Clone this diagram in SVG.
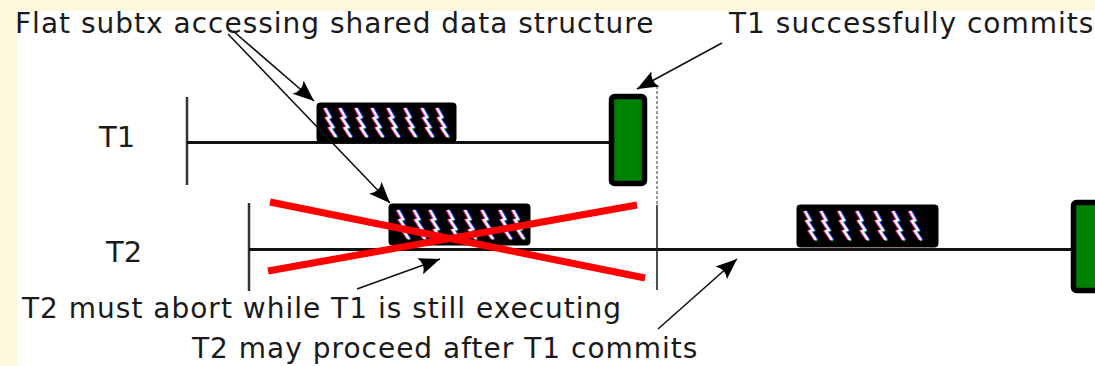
<svg xmlns="http://www.w3.org/2000/svg" xmlns:xlink="http://www.w3.org/1999/xlink" width="1095" height="366" viewBox="0 0 1095 366">
<style>
.txt{font-family:"DejaVu Sans","Liberation Sans",sans-serif;font-size:28px;fill:#1a1a1a;letter-spacing:1px}
.lbl{font-family:"DejaVu Sans","Liberation Sans",sans-serif;font-size:29px;fill:#1a1a1a}
.tl{stroke:#111;stroke-width:3;fill:none}
.tick{stroke:#333;stroke-width:2.5;fill:none}
.arr{stroke:#111;stroke-width:1.6;fill:none;marker-end:url(#ah)}
.cross{stroke:#ff0000;stroke-width:7;stroke-linecap:butt;fill:none}
.commit{fill:#008000;stroke:#000;stroke-width:5.5}
.box{fill:#000;stroke:#000;stroke-width:1}
</style>
<defs>
<marker id="ah" markerUnits="userSpaceOnUse" markerWidth="24" markerHeight="20" viewBox="-22 -10 24 20" refX="0" refY="0" orient="auto">
<path d="M0,0 L-21,-8.5 Q-15,0 -21,8.5 Z" fill="#000"/>
</marker>
<g id="sq">
<polyline points="-1.5,0 3.5,9 0.5,10 6.5,19 3.5,20 9.5,29" fill="none" stroke="#e0208a" stroke-width="2"/>
<polyline points="1.5,0 6.5,9 3.5,10 9.5,19 6.5,20 12.5,29" fill="none" stroke="#2a40ff" stroke-width="2"/>
<polyline points="0.8,1 5.8,10 2.8,11 8.8,20 5.8,21 11.8,30" fill="none" stroke="#20c030" stroke-width="1.5"/>
<polyline points="0,0 5,9 2,10 8,19 5,20 11,29" fill="none" stroke="#fff" stroke-width="2.3"/>
</g>
</defs>
<rect x="0" y="0" width="1095" height="366" fill="#fff8dc"/>
<rect x="17" y="11" width="1078" height="355" fill="#fff"/>

<g id="labels">
<text class="txt" x="15" y="33">Flat subtx accessing shared data structure</text>
<text class="txt" x="729" y="33">T1 successfully commits</text>
<text class="txt" x="22" y="318">T2 must abort while T1 is still executing</text>
<text class="txt" x="192" y="358">T2 may proceed after T1 commits</text>
</g>

<g id="T1">
<text class="lbl" x="99" y="147">T1</text>
<line class="tick" x1="187" y1="97" x2="187" y2="185"/>
<line class="tl" x1="187" y1="142.5" x2="612" y2="142.5"/>
</g>

<g id="T1-subtx">
<rect class="box" x="317" y="103" width="139" height="39" rx="3"/>
<use xlink:href="#sq" x="325" y="108"/>
<use xlink:href="#sq" x="340" y="108"/>
<use xlink:href="#sq" x="356" y="108"/>
<use xlink:href="#sq" x="372" y="108"/>
<use xlink:href="#sq" x="388" y="108"/>
<use xlink:href="#sq" x="405" y="108"/>
<use xlink:href="#sq" x="422" y="108"/>
<use xlink:href="#sq" x="437" y="108"/>
</g>

<g id="T1-commit">
<rect class="commit" x="611.5" y="96.5" width="33" height="87" rx="3"/>
</g>

<g id="commit-line">
<line x1="657" y1="86" x2="657" y2="205" stroke="#333" stroke-width="1" stroke-dasharray="3,2"/>
<line x1="657" y1="205" x2="657" y2="290" stroke="#222" stroke-width="1.6"/>
</g>

<g id="T2">
<text class="lbl" x="106" y="262">T2</text>
<line class="tick" x1="249" y1="203" x2="249" y2="291"/>
<line class="tl" x1="249" y1="249.5" x2="1073" y2="249.5"/>
</g>

<g id="T2-subtx-aborted">
<rect class="box" x="389" y="204" width="141" height="41" rx="3"/>
<use xlink:href="#sq" x="398" y="210"/>
<use xlink:href="#sq" x="414" y="210"/>
<use xlink:href="#sq" x="430" y="210"/>
<use xlink:href="#sq" x="448" y="210"/>
<use xlink:href="#sq" x="465" y="210"/>
<use xlink:href="#sq" x="482" y="210"/>
<use xlink:href="#sq" x="500" y="210"/>
<use xlink:href="#sq" x="513" y="210"/>
</g>

<g id="abort-cross">
<line class="cross" x1="270" y1="202" x2="645" y2="278"/>
<line class="cross" x1="268" y1="271" x2="637" y2="205"/>
</g>

<g id="T2-subtx-retry">
<rect class="box" x="797" y="205" width="141" height="42" rx="3"/>
<use xlink:href="#sq" x="805" y="211"/>
<use xlink:href="#sq" x="821" y="211"/>
<use xlink:href="#sq" x="839" y="211"/>
<use xlink:href="#sq" x="857" y="211"/>
<use xlink:href="#sq" x="875" y="211"/>
<use xlink:href="#sq" x="893" y="211"/>
<use xlink:href="#sq" x="910" y="211"/>
</g>

<g id="T2-commit">
<rect class="commit" x="1073.5" y="202.5" width="40" height="88" rx="3"/>
</g>

<g id="connectors">
<line class="arr" x1="233" y1="31" x2="314" y2="101"/>
<line class="arr" x1="228" y1="34" x2="390" y2="203"/>
<line class="arr" x1="722" y1="43" x2="637" y2="89"/>
<line class="arr" x1="357" y1="289" x2="440" y2="259"/>
<line class="arr" x1="658" y1="329" x2="737" y2="259"/>
</g>
</svg>
